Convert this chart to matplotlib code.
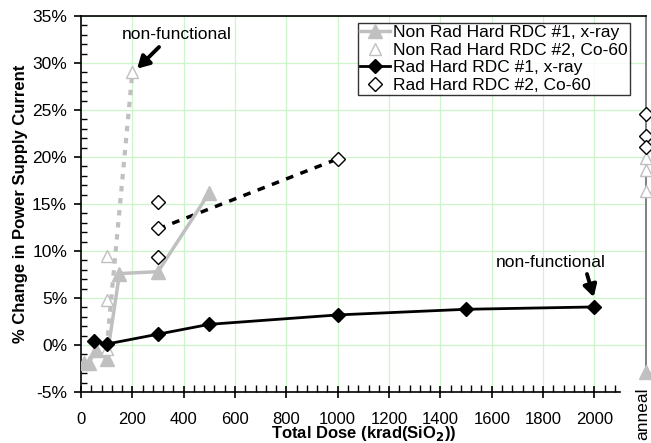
import numpy as np
import matplotlib.pyplot as plt
from matplotlib.ticker import MultipleLocator, FuncFormatter

plt.rcParams['font.family'] = ['Liberation Sans', 'DejaVu Sans']

# Non Rad Hard RDC #1, x-ray
nrh1_dose = [10, 30, 60, 100, 150, 300, 500]
nrh1_pct = [-1.9, -1.9, -0.5, -1.5, 7.6, 7.8, 16.2]

# Non Rad Hard RDC #2, Co-60 (individual parts)
nrh2_dose = [100, 100, 100, 200]
nrh2_pct = [-0.4, 4.8, 9.5, 29.0]
# dashed trend for Co-60 part
nrh2_trend_dose = [100, 200]
nrh2_trend_pct = [-0.3, 29.0]

# Rad Hard RDC #1, x-ray
rh1_dose = [50, 100, 300, 500, 1000, 1500, 2000]
rh1_pct = [0.45, 0.1, 1.15, 2.2, 3.2, 3.8, 4.05]

# Rad Hard RDC #2, Co-60
rh2_dose = [300, 300, 300, 1000]
rh2_pct = [15.2, 12.4, 9.4, 19.8]
rh2_trend_dose = [300, 1000]
rh2_trend_pct = [12.35, 19.8]

# anneal values (plotted at the right edge)
anneal_x = 2200
anneal_nrh1 = [-2.9]
anneal_nrh2 = [19.9, 18.6, 16.4]
anneal_rh2 = [24.6, 22.2, 21.1]

grey = '#c0c0c0'
fs = 12
fs_txt = 12.5

fig = plt.figure(figsize=(6.51, 4.43), dpi=100)
ax = fig.add_axes([0.1244, 0.1151, 0.8676, 0.8488])

ax.set_xlim(0, 2200)
ax.set_ylim(-5, 35)

# grid
for gx in range(200, 2001, 200):
    ax.axvline(gx, color='#ccf5cc', lw=0.9, zorder=0)
for gy in range(-5, 36, 5):
    ax.axhline(gy, color='#ccf5cc', lw=0.9, zorder=0)

ax.plot(nrh2_trend_dose, nrh2_trend_pct, color=grey, lw=3, ls=(0, (1.3, 1.6)), zorder=2)
ax.plot(rh2_trend_dose, rh2_trend_pct, color='black', lw=2.5, ls=(0, (2.2, 2.2)), zorder=2)

ax.plot(nrh1_dose, nrh1_pct, color=grey, lw=2.5, marker='^', ms=10, mec=grey, mfc=grey,
        label='Non Rad Hard RDC #1, x-ray', zorder=3)
ax.plot(nrh2_dose, nrh2_pct, ls='none', marker='^', ms=9, mfc='white', mec=grey, mew=1.0,
        label='Non Rad Hard RDC #2, Co-60', zorder=3)
ax.plot(rh1_dose, rh1_pct, color='black', lw=2, marker='D', ms=7, mfc='black', mec='black',
        label='Rad Hard RDC #1, x-ray', zorder=4)
ax.plot(rh2_dose, rh2_pct, ls='none', marker='D', ms=7, mfc='white', mec='black', mew=1.0,
        label='Rad Hard RDC #2, Co-60', zorder=4)

# anneal column
ax.plot([anneal_x, anneal_x], [anneal_nrh1[0], 35], color='#808080', lw=1.4, zorder=2, clip_on=False)
ax.plot([anneal_x] * len(anneal_nrh1), anneal_nrh1, ls='none', marker='^', ms=10, mfc=grey, mec=grey,
        zorder=5, clip_on=False)
ax.plot([anneal_x] * len(anneal_nrh2), anneal_nrh2, ls='none', marker='^', ms=9, mfc='white', mec=grey,
        zorder=5, clip_on=False)
ax.plot([anneal_x] * len(anneal_rh2), anneal_rh2, ls='none', marker='D', ms=7, mfc='white', mec='black',
        zorder=5, clip_on=False)
ax.text(anneal_x - 10, -4.5, 'anneal', rotation=90, ha='center', va='top', fontsize=fs_txt)

# spines
ax.spines['right'].set_visible(False)
ax.spines['bottom'].set_bounds(0, 2100)
for s in ['left', 'bottom', 'top']:
    ax.spines[s].set_linewidth(1.2)

ax.set_xticks(np.arange(0, 2001, 200))
ax.set_xticks([m for m in range(0, 2101, 40) if m % 200 != 0], minor=True)
ax.yaxis.set_major_locator(MultipleLocator(5))
ax.yaxis.set_minor_locator(MultipleLocator(1))
ax.yaxis.set_major_formatter(FuncFormatter(lambda v, p: '%d%%' % v))

ax.tick_params(axis='x', which='major', direction='inout', length=9, width=1.2, labelsize=fs, pad=10)
ax.tick_params(axis='x', which='minor', direction='in', length=5, width=1.0)
ax.tick_params(axis='y', which='major', direction='out', length=5, width=1.2, labelsize=fs_txt, pad=5)
ax.tick_params(axis='y', which='minor', direction='in', length=4, width=1.0)
ax.tick_params(top=False, right=False, which='both')

ax.set_xlabel('Total Dose (krad(SiO$_\\mathbf{2}$))', fontsize=fs, fontweight='bold', labelpad=-2)
ax.set_ylabel('% Change in Power Supply Current', fontsize=fs, fontweight='bold', labelpad=3)

# annotations
arrow = dict(arrowstyle='-|>,head_length=0.7,head_width=0.4', color='black', lw=2.8,
             shrinkA=0, shrinkB=0)
ax.text(373, 33.0, 'non-functional', ha='center', va='center', fontsize=fs_txt)
ax.annotate('', xy=(219, 29.4), xytext=(304, 31.7), arrowprops=arrow)
ax.text(1828, 8.8, 'non-functional', ha='center', va='center', fontsize=fs_txt)
ax.annotate('', xy=(1997, 5.1), xytext=(1971, 7.55), arrowprops=arrow)

leg = ax.legend(loc='upper right', bbox_to_anchor=(0.972, 0.982), fontsize=fs_txt, frameon=True, fancybox=False,
                edgecolor='black', borderpad=0.12, labelspacing=0.14, handlelength=1.7, handletextpad=0.2,
                borderaxespad=0)
leg.get_frame().set_linewidth(1.0)

fig.savefig('out.png', dpi=100)
